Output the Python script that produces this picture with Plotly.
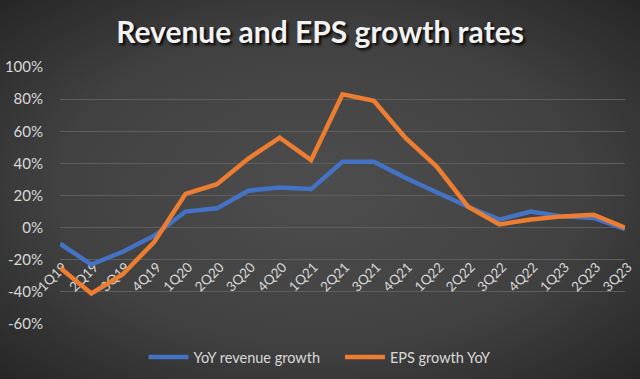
import base64
import plotly.graph_objects as go

quarters = ["1Q19", "2Q19", "3Q19", "4Q19", "1Q20", "2Q20", "3Q20", "4Q20",
            "1Q21", "2Q21", "3Q21", "4Q21", "1Q22", "2Q22", "3Q22", "4Q22",
            "1Q23", "2Q23", "3Q23"]
revenue_growth = [-10, -23, -15, -5, 10, 12, 23, 25, 24, 41, 41, 31, 22, 13, 5, 10, 7, 6, -1]
eps_growth = [-25, -41, -29, -9, 21, 27, 43, 56, 42, 83, 79, 56, 38, 13, 2, 5, 7, 8, 0]
y_ticks = [-60, -40, -20, 0, 20, 40, 60, 80, 100]
y_tick_labels = [f"{v}%" for v in y_ticks]

W, H = 640, 379
L, R, T, B = 60, 15, 67, 55
pw, ph = W - L - R, H - T - B

svg = f'''<svg xmlns="http://www.w3.org/2000/svg" width="{W}" height="{H}" viewBox="0 0 {W} {H}" preserveAspectRatio="none">
<defs><radialGradient id="g" cx="50%" cy="50%" r="75%">
<stop offset="0%" stop-color="#4d4d4d"/><stop offset="55%" stop-color="#414141"/><stop offset="100%" stop-color="#222222"/>
</radialGradient></defs><rect width="{W}" height="{H}" fill="url(#g)"/></svg>'''
bg = "data:image/svg+xml;base64," + base64.b64encode(svg.encode()).decode()

FONT = "Lato, 'Open Sans', sans-serif"

fig = go.Figure()
fig.add_trace(go.Scatter(x=quarters, y=revenue_growth, mode="lines",
                         name="YoY revenue growth&nbsp;&nbsp;&nbsp;&nbsp;",
                         line=dict(color="#4472C4", width=4.5)))
fig.add_trace(go.Scatter(x=quarters, y=eps_growth, mode="lines", name="EPS growth YoY",
                         line=dict(color="#ED7D31", width=4.5)))

fig.update_layout(
    width=W, height=H,
    margin=dict(l=L, r=R, t=T, b=B, autoexpand=False),
    paper_bgcolor="#3a3a3a",
    plot_bgcolor="rgba(0,0,0,0)",
    images=[dict(source=bg, xref="paper", yref="paper", x=-L / pw, y=1 + T / ph,
                 sizex=W / pw, sizey=H / ph, xanchor="left", yanchor="top",
                 sizing="stretch", layer="below")],
    title=dict(text="<b>Revenue and EPS growth rates</b>", x=0.5, xanchor="center",
               y=1 - 32 / H, yanchor="middle",
               font=dict(family=FONT, size=30, color="#f2f2f2", shadow="2px 2px 3px #000000")),
    showlegend=True,
    legend=dict(orientation="h", x=(W / 2 - L) / pw, xanchor="center", y=-33 / ph, yanchor="middle",
                font=dict(family=FONT, size=14.5, color="#d9d9d9"), bgcolor="rgba(0,0,0,0)",
                itemwidth=40),
    xaxis=dict(type="category", anchor="free", position=60 / 160, showgrid=False,
               showline=False, zeroline=False, ticks="", tickangle=-45,
               ticklabelstandoff=28, ticklabelshift=3, layer="below traces",
               tickfont=dict(family=FONT, size=13.5, color="#d9d9d9")),
    yaxis=dict(range=[-60, 100], tickvals=y_ticks, ticktext=y_tick_labels,
               showgrid=True, gridcolor="#5e5e5e", gridwidth=1, zeroline=False,
               showline=False, ticklabelstandoff=16,
               tickfont=dict(family=FONT, size=15, color="#d9d9d9")),
)

fig.write_html("out.html", config={"displayModeBar": False},
               post_script="document.body.style.margin='0';")
